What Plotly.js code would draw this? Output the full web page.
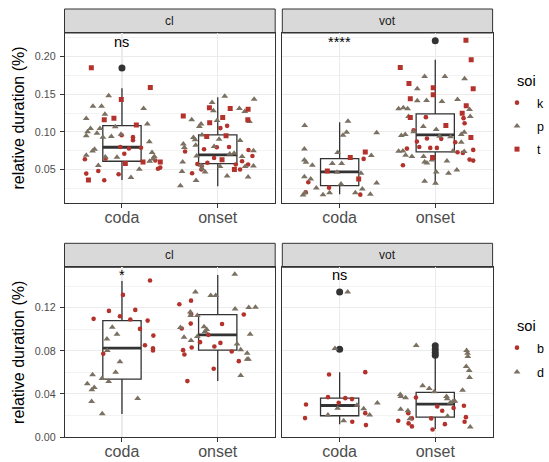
<!DOCTYPE html>
<html>
<head>
<meta charset="utf-8">
<script src="https://cdn.plot.ly/plotly-3.0.1.min.js"></script>
<style>html,body{margin:0;padding:0;background:#fff;}#chart{width:549px;height:462px;}</style>
</head>
<body>
<div id="chart"></div>
<script>
// ---------------- DATA ----------------
const xCats = ['coda', 'onset'];
const facetLabels = ['cl', 'vot', 'cl', 'vot'];
const yTitle = 'relative duration (%)';
const legendTitle = 'soi';
const topSoi = ['k', 'p', 't'];
const bottomSoi = ['b', 'd'];
const sigLabels = ['ns', '****', '*', 'ns'];
const sigY = [0.2197, 0.2197, 0.1503, 0.1503];
const topTicks = [0.05, 0.10, 0.15, 0.20];
const bottomTicks = [0.00, 0.04, 0.08, 0.12];

// ---- top-left: cl (k / p / t) ----
const tlLower = [0.0362, 0.0278], tlQ1 = [0.061, 0.0579], tlMed = [0.0796, 0.0694], tlQ3 = [0.1084, 0.096], tlUpper = [0.158, 0.146];
const tlOutCat = [1], tlOutVal = [0.1846];
const tlK_coda = [0.0636, 0.0446, 0.048, 0.0357, 0.0437, 0.0645, 0.0956, 0.093, 0.089, 0.080, 0.071, 0.078, 0.079, 0.062, 0.051, 0.0526];
const tlK_codaJit = [-0.387, -0.373, -0.247, -0.185, -0.035, -0.171, -0.003, 0.115, 0.115, -0.017, 0.024, 0.073, 0.199, 0.348, 0.376, 0.40];
const tlK_onset = [0.045, 0.074, 0.0574, 0.0548, 0.077, 0.0796, 0.105, 0.108, 0.050, 0.059, 0.0654, 0.080, 0.0566, 0.061, 0.076, 0.068, 0.0566, 0.050];
const tlK_onsetJit = [-0.268, -0.341, -0.213, -0.167, -0.143, -0.010, 0.028, 0.098, -0.171, -0.108, -0.038, 0.118, 0.188, 0.254, 0.321, 0.362, 0.317, 0.233];
const tlP_coda = [0.1177, 0.1044, 0.100, 0.0947, 0.098, 0.1044, 0.093, 0.148, 0.134, 0.134, 0.1235, 0.1067, 0.097, 0.094, 0.077, 0.0747, 0.069, 0.0552, 0.0667, 0.0663, 0.0393, 0.0504, 0.131, 0.1106, 0.087, 0.0725, 0.061, 0.0672, 0.064];
const tlP_codaJit = [-0.373, -0.328, -0.359, -0.373, -0.261, -0.230, -0.199, -0.139, -0.213, -0.303, -0.178, -0.070, -0.010, -0.111, -0.286, -0.307, -0.373, -0.247, -0.174, -0.052, 0.094, 0.181, 0.226, 0.265, 0.286, 0.314, 0.289, 0.338, 0.324];
const tlP_onset = [0.0286, 0.0473, 0.060, 0.084, 0.0792, 0.116, 0.0925, 0.0894, 0.1106, 0.096, 0.107, 0.0823, 0.068, 0.0557, 0.0512, 0.0468, 0.0353, 0.128, 0.139, 0.1474, 0.115, 0.0902, 0.0805, 0.054, 0.0415, 0.0707, 0.0716, 0.131, 0.127, 0.0885, 0.0672, 0.054, 0.040, 0.1434, 0.075, 0.0548, 0.1137];
const tlP_onsetJit = [-0.390, -0.373, -0.366, -0.359, -0.348, -0.272, -0.254, -0.237, -0.174, -0.164, -0.192, -0.230, -0.220, -0.174, -0.164, -0.132, -0.226, -0.045, -0.059, 0.073, -0.007, 0.014, -0.038, 0.024, 0.098, 0.125, 0.171, 0.226, 0.282, 0.233, 0.254, 0.286, 0.317, 0.380, 0.373, 0.373, 0.331];
const tlT_coda = [0.185, 0.143, 0.116, 0.118, 0.109, 0.159, 0.058, 0.060, 0.060, 0.036];
const tlT_codaJit = [-0.32, -0.007, -0.185, -0.084, 0.15, 0.296, 0.035, 0.22, 0.40, -0.35];
const tlT_onset = [0.121, 0.132, 0.131, 0.130, 0.119, 0.112, 0.116, 0.094, 0.095, 0.063, 0.050];
const tlT_onsetJit = [-0.36, -0.087, 0.13, 0.317, 0.052, -0.084, 0.314, -0.115, 0.087, 0.045, 0.174];

// ---- top-right: vot (k / p / t) ----
const trLower = [0.0171, 0.0304], trQ1 = [0.0286, 0.0734], trMed = [0.0468, 0.096], trQ3 = [0.0645, 0.1239], trUpper = [0.1129, 0.1957];
const trOutCat = [2], trOutVal = [0.221];
const trK_coda = [0.0331, 0.0198, 0.026, 0.0167, 0.0641];
const trK_codaJit = [-0.328, -0.355, -0.111, 0.216, 0.251];
const trK_onset = [0.0557, 0.0778, 0.1022, 0.0871, 0.080, 0.1195, 0.0911, 0.0787, 0.0787, 0.0907, 0.1182, 0.1115, 0.0863, 0.073, 0.0721, 0.0632, 0.0619, 0.0761];
const trK_onsetJit = [-0.338, -0.296, -0.226, -0.192, -0.167, -0.098, -0.087, -0.052, 0.017, 0.063, 0.296, 0.307, 0.209, 0.233, 0.289, 0.359, 0.397, 0.397];
const trP_coda = [0.1084, 0.0774, 0.0628, 0.0597, 0.0557, 0.0406, 0.0375, 0.0193, 0.0162, 0.0167, 0.0193, 0.0579, 0.0579, 0.0725, 0.0956, 0.0996, 0.1142, 0.0308, 0.0193, 0.045, 0.0242, 0.0171, 0.0685, 0.0987, 0.0322, 0.0255, 0.0464];
const trP_codaJit = [-0.366, -0.369, -0.369, -0.352, -0.286, -0.369, -0.303, -0.362, -0.383, -0.174, -0.105, -0.077, 0.021, -0.021, 0.035, 0.073, 0.087, 0.014, 0.164, 0.223, 0.237, 0.321, 0.331, 0.387, 0.387, -0.244, -0.028];
const trP_onset = [0.1306, 0.1319, 0.1306, 0.1572, 0.1736, 0.1736, 0.1705, 0.1204, 0.1412, 0.1417, 0.1403, 0.143, 0.1297, 0.1204, 0.0965, 0.0951, 0.100, 0.1071, 0.1031, 0.0965, 0.0996, 0.0747, 0.0743, 0.069, 0.0672, 0.0672, 0.0601, 0.0588, 0.0628, 0.0468, 0.0317, 0.0344, 0.045, 0.0614, 0.0495, 0.0747, 0.0738, 0.0863, 0.0934, 0.0942];
const trP_onsetJit = [-0.383, -0.334, -0.289, -0.188, -0.111, 0.101, 0.307, -0.279, -0.188, -0.091, 0.070, 0.233, 0.359, 0.366, -0.314, -0.355, -0.226, -0.125, 0.010, 0.272, 0.303, -0.338, -0.383, -0.310, -0.244, -0.122, -0.111, -0.087, -0.035, 0.010, 0.003, -0.111, 0.139, 0.122, 0.226, 0.185, 0.303, 0.272, 0.160, 0.045];
const trT_coda = [0.0659, 0.0734, 0.0481, 0.0375];
const trT_codaJit = [0.111, 0.268, -0.129, 0.199];
const trT_onset = [0.1855, 0.1643, 0.1439, 0.119, 0.1585, 0.1492, 0.1084, 0.2215, 0.1957, 0.1572, 0.1346, 0.1248, 0.0925, 0.0659];
const trT_onsetJit = [-0.366, -0.275, -0.261, -0.261, -0.021, -0.021, 0.111, 0.321, 0.376, 0.397, 0.324, 0.282, 0.373, -0.028];

// ---- bottom-left: cl (b / d) ----
const blLower = [0.0213, 0.0519], blQ1 = [0.0537, 0.0806], blMed = [0.0824, 0.0948], blQ3 = [0.108, 0.1136], blUpper = [0.1448, 0.1503];
const blB_coda = [0.1096, 0.117, 0.112, 0.1318, 0.109, 0.1179, 0.1003, 0.108, 0.1451, 0.0941, 0.0852, 0.0824, 0.0802, 0.0772];
const blB_codaJit = [-0.296, -0.136, -0.021, 0.010, 0.087, 0.139, 0.188, 0.268, 0.293, 0.328, 0.240, 0.324, 0.324, -0.195];
const blB_onset = [0.1231, 0.1265, 0.1139, 0.1052, 0.1006, 0.0806, 0.0765, 0.0830, 0.0519, 0.0880, 0.0948, 0.0840, 0.0633, 0.0873, 0.1049, 0.0793, 0.0704, 0.1136];
const blB_onsetJit = [-0.401, -0.279, -0.279, -0.282, -0.376, -0.362, -0.348, -0.272, -0.317, -0.185, -0.098, -0.035, -0.042, 0.028, 0.045, 0.146, 0.220, 0.272];
const blD_coda = [0.0494, 0.0577, 0.0438, 0.046, 0.033, 0.0543, 0.0216, 0.0515, 0.0802, 0.091, 0.1019, 0.0954, 0.0698, 0.0602, 0.0358];
const blD_codaJit = [-0.362, -0.307, -0.314, -0.289, -0.317, -0.209, -0.206, -0.139, -0.153, -0.157, -0.101, -0.052, -0.021, -0.066, 0.164];
const blD_onset = [0.1015, 0.0926, 0.1160, 0.1127, 0.1346, 0.0895, 0.1127, 0.0932, 0.1022, 0.0978, 0.0997, 0.1312, 0.1312, 0.1509, 0.1188, 0.0864, 0.0809, 0.0571, 0.0778, 0.0722, 0.0722, 0.1201, 0.1204, 0.0954];
const blD_onsetJit = [-0.390, -0.352, -0.286, -0.282, -0.233, -0.279, -0.213, -0.213, -0.143, -0.132, -0.115, -0.073, -0.021, 0.178, 0.181, 0.202, 0.240, 0.240, 0.307, 0.307, 0.321, 0.324, 0.394, 0.338];

// ---- bottom-right: vot (b / d) ----
const brLower = [0.012, 0.0074], brQ1 = [0.0198, 0.0185], brMed = [0.0293, 0.0306], brQ3 = [0.0361, 0.0414], brUpper = [0.0602, 0.0741];
const brOutCat = [1, 1, 2, 2, 2, 2], brOutVal = [0.1346, 0.0815, 0.0846, 0.0815, 0.0784, 0.0759];
const brB_coda = [0.0302, 0.0176, 0.058, 0.037, 0.0318, 0.0361, 0.0352, 0.0142, 0.0602, 0.0222, 0.0111];
const brB_codaJit = [-0.352, -0.362, -0.111, -0.122, -0.010, 0.059, 0.129, 0.132, 0.268, 0.268, 0.275];
const brB_onset = [0.0151, 0.0222, 0.0127, 0.0173, 0.0099, 0.0367, 0.0173, 0.0071, 0.0284, 0.0244, 0.0120, 0.0269, 0.0290, 0.0185, 0.0142];
const brB_onsetJit = [-0.387, -0.282, -0.279, -0.244, -0.244, -0.202, -0.042, -0.028, 0.021, 0.073, 0.101, 0.192, 0.300, 0.321, 0.307];
const brD_coda = [0.1346, 0.0821, 0.0204, 0.0268, 0.0151, 0.0262, 0.0204, 0.0315, 0.0296];
const brD_codaJit = [0.084, -0.049, -0.122, -0.021, 0.042, 0.251, 0.314, 0.394, 0.181];
const brD_onset = [0.0849, 0.0395, 0.0377, 0.0364, 0.0259, 0.0244, 0.0170, 0.0475, 0.0451, 0.0420, 0.0377, 0.0355, 0.0194, 0.0318, 0.0330, 0.0333, 0.0435, 0.0654, 0.0617, 0.0552, 0.0802, 0.0778, 0.0747, 0.0093];
const brD_onsetJit = [-0.199, -0.366, -0.359, -0.310, -0.362, -0.286, -0.265, -0.132, -0.063, -0.010, 0.118, 0.125, 0.129, 0.157, 0.185, 0.206, 0.286, 0.324, 0.355, 0.359, 0.328, 0.338, 0.341, 0.366];

// ---------------- STYLE / LAYOUT ----------------
const W = 549, H = 462;
const RED = '#b3322c', GREY = '#7b7162', DARK = '#333333';
const FONT = 'Liberation Sans, Arial, Helvetica, sans-serif';
const colX = [[64.5, 275.2], [282.3, 492.6]];
const rowY = [[33, 203], [267.3, 437.3]];
const stripH = 24;
const xd = c => [colX[c][0] / W, colX[c][1] / W];
const yd = r => [1 - rowY[r][1] / H, 1 - rowY[r][0] / H];

const shapeStyle = {
  k: {symbol: 'circle', size: 4.6, color: RED},
  p: {symbol: 'triangle-up', size: 6, color: GREY},
  t: {symbol: 'square', size: 5, color: RED},
  b: {symbol: 'circle', size: 4.6, color: RED},
  d: {symbol: 'triangle-up', size: 6, color: GREY}
};

const traces = [];
function addPanel(ax, lower, q1, med, q3, upper, outCat, outVal) {
  traces.push({
    type: 'box', x: [1, 2], q1: q1, median: med, q3: q3, lowerfence: lower, upperfence: upper,
    width: 0.4, whiskerwidth: 0, boxpoints: false, fillcolor: 'white',
    line: {color: DARK, width: 1.3}, xaxis: 'x' + ax, yaxis: 'y' + ax, showlegend: false, hoverinfo: 'skip'
  });
  const mx = [], my = [];
  med.forEach((m, i) => { mx.push(i + 1 - 0.2, i + 1 + 0.2, null); my.push(m, m, null); });
  traces.push({type: 'scatter', mode: 'lines', x: mx, y: my, line: {color: DARK, width: 2.8},
    xaxis: 'x' + ax, yaxis: 'y' + ax, showlegend: false, hoverinfo: 'skip'});
  if (outCat) {
    traces.push({type: 'scatter', mode: 'markers', x: outCat, y: outVal,
      marker: {color: DARK, size: 7, symbol: 'circle'},
      xaxis: 'x' + ax, yaxis: 'y' + ax, showlegend: false, hoverinfo: 'skip'});
  }
}
function addPoints(ax, soi, coda, codaJit, onset, onsetJit, legendName, showLeg) {
  const st = shapeStyle[soi];
  traces.push({
    type: 'scatter', mode: 'markers', name: soi, legendgroup: soi, legend: legendName, showlegend: showLeg,
    x: codaJit.map(j => 1 + j).concat(onsetJit.map(j => 2 + j)),
    y: coda.concat(onset),
    marker: {symbol: st.symbol, size: st.size, color: st.color, line: {width: 0}},
    xaxis: 'x' + ax, yaxis: 'y' + ax
  });
}

addPanel('', tlLower, tlQ1, tlMed, tlQ3, tlUpper, tlOutCat, tlOutVal);
addPanel('2', trLower, trQ1, trMed, trQ3, trUpper, trOutCat, trOutVal);
addPanel('3', blLower, blQ1, blMed, blQ3, blUpper, null, null);
addPanel('4', brLower, brQ1, brMed, brQ3, brUpper, brOutCat, brOutVal);

addPoints('', 'k', tlK_coda, tlK_codaJit, tlK_onset, tlK_onsetJit, 'legend', true);
addPoints('', 'p', tlP_coda, tlP_codaJit, tlP_onset, tlP_onsetJit, 'legend', true);
addPoints('', 't', tlT_coda, tlT_codaJit, tlT_onset, tlT_onsetJit, 'legend', true);
addPoints('2', 'k', trK_coda, trK_codaJit, trK_onset, trK_onsetJit, 'legend', false);
addPoints('2', 'p', trP_coda, trP_codaJit, trP_onset, trP_onsetJit, 'legend', false);
addPoints('2', 't', trT_coda, trT_codaJit, trT_onset, trT_onsetJit, 'legend', false);
addPoints('3', 'b', blB_coda, blB_codaJit, blB_onset, blB_onsetJit, 'legend2', true);
addPoints('3', 'd', blD_coda, blD_codaJit, blD_onset, blD_onsetJit, 'legend2', true);
addPoints('4', 'b', brB_coda, brB_codaJit, brB_onset, brB_onsetJit, 'legend2', false);
addPoints('4', 'd', brD_coda, brD_codaJit, brD_onset, brD_onsetJit, 'legend2', false);

function xAxis(c, anchor) {
  return {
    domain: xd(c), anchor: anchor, range: [0.4, 2.6], tickvals: [1, 2], ticktext: xCats,
    showgrid: true, gridcolor: '#ebebeb', gridwidth: 1.1, zeroline: false,
    showline: true, mirror: true, linecolor: DARK, linewidth: 1,
    ticks: 'outside', ticklen: 3.7, tickwidth: 1, tickcolor: DARK, ticklabelstandoff: -4,
    tickfont: {family: FONT, size: 16, color: '#4d4d4d'}, fixedrange: true
  };
}
function yAxis(r, anchor, showLabels, range, ticks, minorDt, minor0) {
  const a = {
    domain: yd(r), anchor: anchor, range: range, tickvals: ticks,
    ticktext: ticks.map(v => v.toFixed(2)),
    showgrid: true, gridcolor: '#ebebeb', gridwidth: 1.1, zeroline: false,
    showline: true, mirror: true, linecolor: DARK, linewidth: 1,
    minor: {tick0: minor0, dtick: minorDt, showgrid: true, gridcolor: '#f3f3f3', gridwidth: 1, ticks: ''},
    fixedrange: true, showticklabels: showLabels,
    ticks: showLabels ? 'outside' : '', ticklen: 3.7, tickwidth: 1, tickcolor: DARK,
    tickfont: {family: FONT, size: 10.7, color: '#4d4d4d'}
  };
  if (showLabels) {
    a.ticklabelstandoff = 2;
    a.title = {text: yTitle, font: {family: FONT, size: 16, color: '#000'}, standoff: 6};
  }
  return a;
}
const topRange = [0.0056, 0.2312], botRange = [-0.0002, 0.1574];

const shapes = [], annotations = [];
const panelAxes = [['x', 'y'], ['x2', 'y2'], ['x3', 'y3'], ['x4', 'y4']];
for (let p = 0; p < 4; p++) {
  const c = p % 2, r = Math.floor(p / 2);
  const y1 = rowY[r][0], y0 = y1 - stripH;
  shapes.push({type: 'rect', xref: 'paper', yref: 'paper',
    x0: colX[c][0] / W, x1: colX[c][1] / W, y0: 1 - y1 / H, y1: 1 - y0 / H,
    fillcolor: '#d9d9d9', line: {color: DARK, width: 1}, layer: 'below'});
  annotations.push({xref: 'paper', yref: 'paper', x: (colX[c][0] + colX[c][1]) / 2 / W,
    y: 1 - (y0 + stripH / 2) / H, text: facetLabels[p], showarrow: false,
    xanchor: 'center', yanchor: 'middle', font: {family: FONT, size: 12, color: '#1a1a1a'}});
  annotations.push({xref: panelAxes[p][0], yref: panelAxes[p][1], x: 1, y: sigY[p],
    text: sigLabels[p], showarrow: false, xanchor: 'center', yanchor: 'middle',
    font: {family: FONT, size: 14.5, color: '#000'}});
}
// legend titles placed as text labels
[80.7, 326].forEach(yc => {
  annotations.push({xref: 'paper', yref: 'paper', x: 514.5 / W, y: 1 - yc / H, text: legendTitle,
    showarrow: false, xanchor: 'left', yanchor: 'middle', font: {family: FONT, size: 14.6, color: '#000'}});
});

const legendBase = (yTop, gap) => ({
  x: 1, y: 1 - yTop / H, xanchor: 'right', yanchor: 'top',
  font: {family: FONT, size: 12.5, color: '#000'}, tracegroupgap: gap, bgcolor: 'rgba(0,0,0,0)'
});

const layout = {
  width: W, height: H, margin: {l: 0, r: 0, t: 0, b: 0},
  paper_bgcolor: '#fff', plot_bgcolor: '#fff',
  font: {family: FONT},
  xaxis: xAxis(0, 'y'), yaxis: yAxis(0, 'x', true, topRange, topTicks, 0.05, 0.025),
  xaxis2: xAxis(1, 'y2'), yaxis2: yAxis(0, 'x2', false, topRange, topTicks, 0.05, 0.025),
  xaxis3: xAxis(0, 'y3'), yaxis3: yAxis(1, 'x3', true, botRange, bottomTicks, 0.04, 0.02),
  xaxis4: xAxis(1, 'y4'), yaxis4: yAxis(1, 'x4', false, botRange, bottomTicks, 0.04, 0.02),
  shapes: shapes, annotations: annotations,
  legend: legendBase(88, 4),
  legend2: legendBase(333, 5),
  showlegend: true, hovermode: false
};

Plotly.newPlot('chart', traces, layout, {staticPlot: true, displayModeBar: false});
</script>
</body>
</html>
